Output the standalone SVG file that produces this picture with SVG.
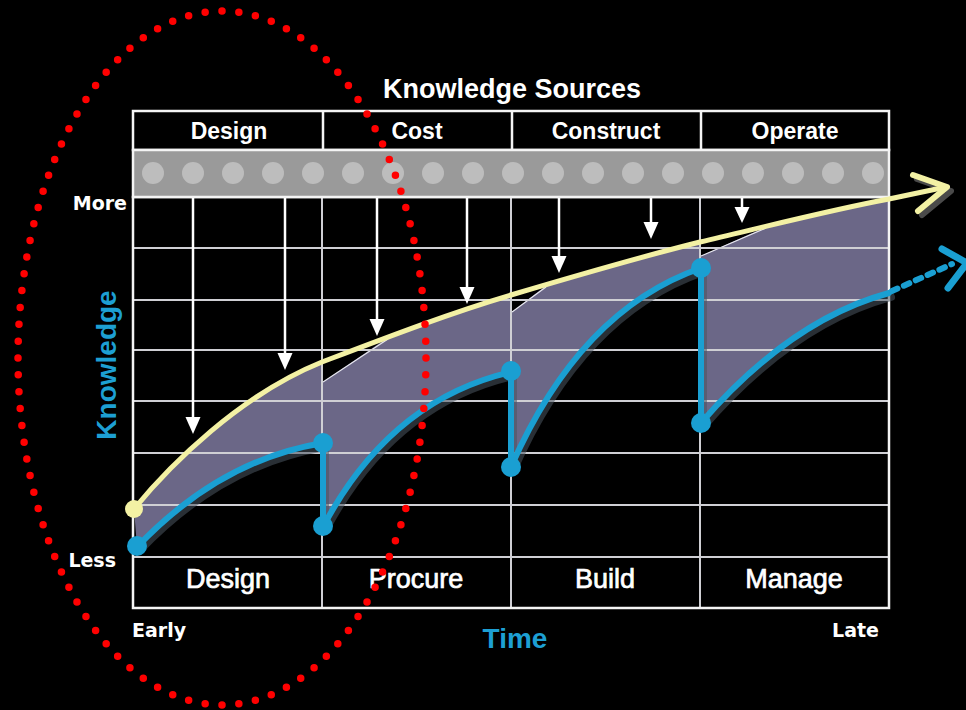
<svg xmlns="http://www.w3.org/2000/svg" width="966" height="710" viewBox="0 0 966 710">
<style>
.grid{stroke:#cfcfd4;stroke-width:2;fill:none}
.border{stroke:#f4f4f4;stroke-width:2.5;fill:none}
.hdr{font-family:"Liberation Sans",Arial,sans-serif;font-weight:bold;font-size:23px;fill:#fff;text-anchor:middle}
.phase{font-family:"Liberation Sans",Arial,sans-serif;font-weight:normal;font-size:27px;fill:#fff;stroke:#fff;stroke-width:0.7;text-anchor:middle}
.small{font-family:"DejaVu Sans",Verdana,sans-serif;font-weight:bold;font-size:19px;fill:#fff}
.axis{font-family:"Liberation Sans",Arial,sans-serif;font-weight:bold;font-size:28px;fill:#1d9fd3;text-anchor:middle}
.fill{fill:#6b6787}
.wedge{fill:#000;stroke:none}
.wline{stroke:#e8e8f0;stroke-width:1.2;fill:none}
.src{stroke:#fff;stroke-width:2.5;fill:none}
.head{fill:#fff}
.dot{fill:#bdbdbd}
.blue{stroke:#1a9fd2;stroke-width:6;fill:none;stroke-linecap:round;stroke-linejoin:round}
.bshadow{stroke:#4a5560;stroke-width:8;fill:none;stroke-linecap:round;stroke-linejoin:round;opacity:0.55}
.bnode{fill:#1a9fd2}
.yellow{stroke:#f3f1a4;stroke-width:5;fill:none;stroke-linecap:round;stroke-linejoin:round}
</style>
<rect x="0" y="0" width="966" height="710" fill="#000"/>

<g id="title">
<text x="512" y="98" font-family="Liberation Sans, Arial, sans-serif" font-weight="bold" font-size="27" fill="#fff" text-anchor="middle">Knowledge Sources</text>
</g>

<g id="gap-area">
<path class="fill" d="M134,509 C170,465 240,395 322,362 L322,443 Q220,460 137,547 Z"/>
<path class="fill" d="M322,362 C385,338 450,313 511,295 L511,372 Q390,400 323,527 Z"/>
<path class="fill" d="M511,295 C575,276 640,257 700,242 L701,268 Q580,310 511,467 Z"/>
<path class="fill" d="M700,242 C760,228 830,210 889,199 L889,293 Q790,320 701,423 Z"/>
<path class="wedge" d="M323,361 L390,336 L323,382 Z"/>
<path class="wline" d="M323,382 L388,339"/>
<path class="wedge" d="M512,294 L548,284 L512,312 Z"/>
<path class="wline" d="M512,312 L546,287"/>
<path class="wedge" d="M701,241 L768,226 L701,256 Z"/>
<path class="wline" d="M701,256 L766,228"/>
</g>

<g id="chart-grid">
<line class="grid" x1="133" y1="248" x2="889" y2="248"/>
<line class="grid" x1="133" y1="300" x2="889" y2="300"/>
<line class="grid" x1="133" y1="350" x2="889" y2="350"/>
<line class="grid" x1="133" y1="401" x2="889" y2="401"/>
<line class="grid" x1="133" y1="453" x2="889" y2="453"/>
<line class="grid" x1="133" y1="505" x2="889" y2="505"/>
<line class="grid" x1="133" y1="557" x2="889" y2="557"/>
<line class="grid" x1="322" y1="197" x2="322" y2="608"/>
<line class="grid" x1="511" y1="197" x2="511" y2="608"/>
<line class="grid" x1="700" y1="197" x2="700" y2="608"/>
<rect class="border" x="133" y="197" width="756" height="411"/>
</g>

<g id="sources-header">
<rect x="133" y="111" width="756" height="39" fill="#000" stroke="#f4f4f4" stroke-width="2.5"/>
<rect x="133" y="150" width="756" height="47" fill="#9a9a9a" stroke="#f4f4f4" stroke-width="2.5"/>
<line class="border" x1="323" y1="111" x2="323" y2="150"/>
<line class="border" x1="512" y1="111" x2="512" y2="150"/>
<line class="border" x1="701" y1="111" x2="701" y2="150"/>
<g id="source-dots">
<circle class="dot" cx="153" cy="173" r="11"/><circle class="dot" cx="193" cy="173" r="11"/><circle class="dot" cx="233" cy="173" r="11"/><circle class="dot" cx="273" cy="173" r="11"/><circle class="dot" cx="313" cy="173" r="11"/><circle class="dot" cx="353" cy="173" r="11"/><circle class="dot" cx="393" cy="173" r="11"/><circle class="dot" cx="433" cy="173" r="11"/><circle class="dot" cx="473" cy="173" r="11"/><circle class="dot" cx="513" cy="173" r="11"/><circle class="dot" cx="553" cy="173" r="11"/><circle class="dot" cx="593" cy="173" r="11"/><circle class="dot" cx="633" cy="173" r="11"/><circle class="dot" cx="673" cy="173" r="11"/><circle class="dot" cx="713" cy="173" r="11"/><circle class="dot" cx="753" cy="173" r="11"/><circle class="dot" cx="793" cy="173" r="11"/><circle class="dot" cx="833" cy="173" r="11"/><circle class="dot" cx="873" cy="173" r="11"/>
</g>
<text class="hdr" x="229" y="139">Design</text>
<text class="hdr" x="417" y="139">Cost</text>
<text class="hdr" x="606" y="139">Construct</text>
<text class="hdr" x="795" y="139">Operate</text>
</g>

<g id="connectors">
<line class="src" x1="193" y1="198" x2="193" y2="420"/><polygon class="head" points="185.5,417 200.5,417 193,434"/>
<line class="src" x1="285" y1="198" x2="285" y2="356"/><polygon class="head" points="277.5,353 292.5,353 285,370"/>
<line class="src" x1="377" y1="198" x2="377" y2="322"/><polygon class="head" points="369.5,319 384.5,319 377,336"/>
<line class="src" x1="467" y1="198" x2="467" y2="290"/><polygon class="head" points="459.5,287 474.5,287 467,304"/>
<line class="src" x1="559" y1="198" x2="559" y2="259"/><polygon class="head" points="551.5,256 566.5,256 559,273"/>
<line class="src" x1="651" y1="198" x2="651" y2="225"/><polygon class="head" points="643.5,222 658.5,222 651,239"/>
<line class="src" x1="742" y1="198" x2="742" y2="209"/><polygon class="head" points="734.5,207 749.5,207 742,223"/>
</g>

<g id="potential-knowledge">
<path d="M917,179 L951,191 L922,215" stroke="#4a4a4a" stroke-width="6" fill="none" stroke-linecap="round" stroke-linejoin="round"/>
<path class="yellow" d="M134,509 C170,465 240,395 322,362 C385,338 450,313 511,295 C575,276 640,257 700,242 C760,228 830,210 889,199 L946,187"/>
<path d="M913,175 L947,187 L918,211" stroke="#f3f1a4" stroke-width="6" fill="none" stroke-linecap="round" stroke-linejoin="round"/>
<circle cx="134" cy="509" r="9" fill="#f3f1a4"/>
</g>

<g id="actual-knowledge">
<path class="bshadow" d="M139,550 Q222,463 325,446 L325,530 Q392,403 513,375 L513,470 Q582,313 703,271 L703,426 Q792,323 891,296" transform="translate(0,1)"/>
<path class="blue" d="M137,547 Q220,460 323,443 L323,527 Q390,400 511,372 L511,467 Q580,310 701,268 L701,423 Q790,320 889,293"/>
<path class="blue" d="M892,291 L952,264" stroke-dasharray="6 7" stroke-linecap="butt" stroke-width="7"/>
<path d="M942,249 L967,263 L948,288" stroke="#1a9fd2" stroke-width="7" fill="none" stroke-linecap="round" stroke-linejoin="round"/>
<circle class="bnode" cx="137" cy="546" r="10"/>
<circle class="bnode" cx="323" cy="443" r="10"/>
<circle class="bnode" cx="323" cy="526" r="10"/>
<circle class="bnode" cx="511" cy="371" r="10"/>
<circle class="bnode" cx="511" cy="467" r="10"/>
<circle class="bnode" cx="701" cy="268" r="10"/>
<circle class="bnode" cx="701" cy="423" r="10"/>
</g>

<g id="phases">
<text class="phase" x="228" y="588">Design</text>
<text class="phase" x="416" y="588">Procure</text>
<text class="phase" x="605" y="588">Build</text>
<text class="phase" x="794" y="588">Manage</text>
</g>

<g id="axis-labels">
<text class="small" x="127" y="210" text-anchor="end">More</text>
<text class="small" x="116" y="567" text-anchor="end">Less</text>
<text class="small" x="132" y="637">Early</text>
<text class="small" x="879" y="637" text-anchor="end">Late</text>
<text class="axis" x="515" y="648">Time</text>
<text class="axis" transform="translate(116,365) rotate(-90)" x="0" y="0">Knowledge</text>
</g>

<g id="highlight">
<ellipse cx="222" cy="358" rx="204" ry="347" fill="none" stroke="#ff0000" stroke-width="7.5" stroke-linecap="round" stroke-dasharray="0 1" pathLength="104"/>
</g>
</svg>
